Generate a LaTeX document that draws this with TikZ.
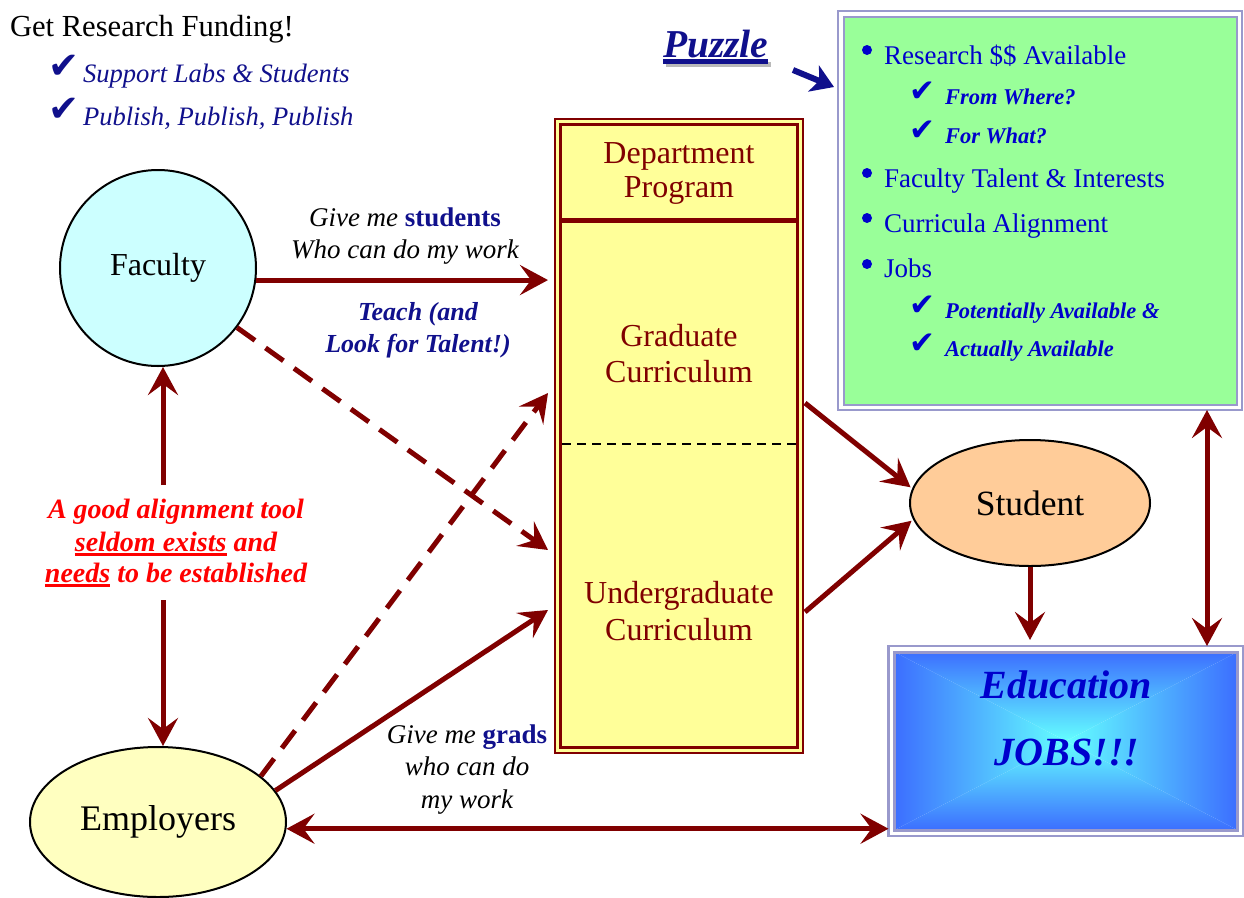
\documentclass[tikz,border=0pt]{standalone}
\usepackage{fontspec}
\setmainfont{Liberation Serif}
\newfontfamily\dejavu{DejaVu Sans}
\usetikzlibrary{arrows.meta,shapes.geometric}
\definecolor{dred}{RGB}{128,0,0}
\definecolor{navy}{RGB}{16,16,140}
\definecolor{gblue}{RGB}{0,0,204}
\definecolor{lav}{RGB}{153,153,204}
\definecolor{gfill}{RGB}{153,255,153}
\definecolor{yfill}{RGB}{255,255,153}
\definecolor{cfill}{RGB}{204,255,255}
\definecolor{efill}{RGB}{255,255,192}
\definecolor{sfill}{RGB}{255,204,153}
\definecolor{eblue}{RGB}{60,110,255}
\definecolor{ecyan}{RGB}{100,255,255}
\definecolor{shadowgray}{RGB}{185,185,185}
\newcommand\fs[1]{\fontsize{#1}{#1}\selectfont}
\newsavebox\ulbox
\newcommand\ulx[3]{\sbox\ulbox{#3}\rlap{\raisebox{-#1}{\rule{\wd\ulbox}{#2}}}\usebox\ulbox}
\newcommand\shadowul[1]{\sbox\ulbox{#1}\rlap{\hspace{3pt}\raisebox{-10pt}{\color{shadowgray}\rule{\wd\ulbox}{5pt}}}\ulx{7pt}{5pt}{#1}}
\tikzset{
  txt/.style={inner sep=0pt, outer sep=0pt},
  arr/.style={draw=dred, line width=5pt, -{Stealth[length=28pt,width=30pt,inset=11pt]}},
  darr/.style={draw=dred, line width=5pt, {Stealth[length=28pt,width=30pt,inset=11pt]}-{Stealth[length=28pt,width=30pt,inset=11pt]}},
  dsh/.style={dash pattern=on 22pt off 13pt},
  mid/.style={txt, anchor=base, font=\fs{27}\itshape},
  redt/.style={txt, anchor=base, font=\fs{28}\bfseries\itshape, text=red},
  teach/.style={txt, anchor=base, font=\fs{26}\bfseries\itshape, text=navy},
  gmain/.style={txt, anchor=base west, font=\fs{27}, text=gblue},
  gsub/.style={txt, anchor=base west, font=\fs{22.5}\bfseries\itshape, text=gblue},
  gchk/.style={txt, anchor=base west, font=\fs{31}\dejavu, text=gblue},
  gbul/.style={circle, fill=gblue, inner sep=0pt, minimum size=10pt},
  dtxt/.style={txt, anchor=base, font=\fs{32}, text=dred},
  etxt/.style={txt, anchor=base, font=\fs{40}\bfseries\itshape, text=gblue},
}
\begin{document}
\begin{tikzpicture}[x=1pt,y=-1pt]
\useasboundingbox (0,0) rectangle (1244,897);
\fill[white] (0,0) rectangle (1244,897);

% top-left
\node[txt, anchor=base west, font=\fs{30.6}] (grf) at (10,36) {Get Research Funding!};
\node[txt, anchor=base west, font=\fs{37}\dejavu, text=navy] (c1) at (48,78) {✔};
\node[txt, anchor=base west, font=\fs{26.6}\itshape, text=navy] (s1) at (83,82) {Support Labs \& Students};
\node[txt, anchor=base west, font=\fs{37}\dejavu, text=navy] (c2) at (48,121) {✔};
\node[txt, anchor=base west, font=\fs{26.6}\itshape, text=navy] (s2) at (83,125) {Publish, Publish, Publish};

% puzzle
\node[txt, anchor=base west, font=\fs{39.5}\bfseries\itshape, text=navy] (pz) at (663,57) {\shadowul{Puzzle}};
\coordinate (pa1) at (793,70);
\coordinate (pa2) at (834,87);
\draw[navy, line width=6pt, -{Stealth[length=22pt,width=28pt,inset=6pt]}] (pa1) -- (pa2);

% green box
\node[draw=lav, line width=2.5pt, fill=white, outer sep=0pt, inner sep=0pt, minimum width=404pt, minimum height=399pt, anchor=north west] (green) at (838,11) {};
\draw[lav, line width=2pt, fill=gfill] ([shift={(5.5,5.5)}]green.north west) rectangle ([shift={(-5.5,-5.5)}]green.south east);
\node[gbul] (b1) at (867,50) {};
\node[gmain] (g1) at (884,64) {Research \$\$ Available};
\node[gchk] (k1) at (909,101) {✔};
\node[gsub] (g1a) at (945,104) {From Where?};
\node[gchk] (k2) at (909,140) {✔};
\node[gsub] (g1b) at (945,143) {For What?};
\node[gbul] (b2) at (867,173) {};
\node[gmain] (g2) at (884,187) {Faculty Talent \& Interests};
\node[gbul] (b3) at (867,218) {};
\node[gmain] (g3) at (884,232) {Curricula Alignment};
\node[gbul] (b4) at (867,264) {};
\node[gmain] (g4) at (884,277) {Jobs};
\node[gchk] (k3) at (909,315) {✔};
\node[gsub] (g4a) at (945,318) {Potentially Available \&};
\node[gchk] (k4) at (909,353) {✔};
\node[gsub] (g4b) at (945,356) {Actually Available};

% department box
\node[draw=dred, line width=2pt, fill=yfill, outer sep=0pt, inner sep=0pt, minimum width=248pt, minimum height=634pt, anchor=north west] (dept) at (555,119) {};
\draw[dred, line width=3pt] ([shift={(5.5,5.5)}]dept.north west) rectangle ([shift={(-5.5,-5.5)}]dept.south east);
\coordinate (sepL) at (560.5,220.5);
\coordinate (sepR) at (797.5,220.5);
\draw[dred, line width=5pt] (sepL) -- (sepR);
\coordinate (dshL) at (562,444);
\coordinate (dshR) at (797,444);
\draw[black, line width=2.5pt, dash pattern=on 9pt off 6pt] (dshL) -- (dshR);
\node[dtxt] (d1) at (679,163) {Department};
\node[dtxt] (d2) at (679,197) {Program};
\node[dtxt] (gr1) at (679,346) {Graduate};
\node[dtxt] (gr2) at (679,382) {Curriculum};
\node[dtxt] (ug1) at (679,603) {Undergraduate};
\node[dtxt] (ug2) at (679,640) {Curriculum};

% education box
\node[draw=lav, line width=2.5pt, fill=white, outer sep=0pt, inner sep=0pt, minimum width=355pt, minimum height=190pt, anchor=north west] (edu) at (888.5,646) {};
\coordinate (eNW) at ([shift={(6,6)}]edu.north west);
\coordinate (eNE) at ([shift={(-6,6)}]edu.north east);
\coordinate (eSW) at ([shift={(6,-6)}]edu.south west);
\coordinate (eSE) at ([shift={(-6,-6)}]edu.south east);
\coordinate (eC) at (edu.center);
\shade[top color=eblue, bottom color=ecyan] (eNW) -- (eNE) -- (eC) -- cycle;
\shade[top color=ecyan, bottom color=eblue] (eSW) -- (eSE) -- (eC) -- cycle;
\shade[left color=eblue, right color=ecyan] (eNW) -- (eSW) -- (eC) -- cycle;
\shade[left color=ecyan, right color=eblue] (eNE) -- (eSE) -- (eC) -- cycle;
\draw[lav, line width=3pt] (eNW) rectangle (eSE);
\node[etxt] (e1) at (1066,698) {Education};
\node[etxt] (e2) at (1067,765) {JOBS!!!};

% ellipses
\node[circle, draw=black, line width=2pt, fill=cfill, minimum size=196pt, inner sep=0pt, font=\fs{32}] (faculty) at (158,268) {Faculty};
\node[ellipse, draw=black, line width=2pt, fill=sfill, minimum width=240pt, minimum height=126pt, inner sep=0pt, font=\fs{35.5}] (student) at (1030,503) {Student};
\node[ellipse, draw=black, line width=2pt, fill=efill, minimum width=256pt, minimum height=150pt, inner sep=0pt, font=\fs{36}] (employers) at (158,822) {Employers};

% target coordinates
\coordinate (tG) at (548,393);
\coordinate (tU1) at (548,550);
\coordinate (tU2) at (548,610);
\coordinate (gO) at (805,403);
\coordinate (uO) at (805,612);
\coordinate (vt) at (163,485);
\coordinate (vb) at (163,600);
\coordinate (ge) at (1207,0);

% arrows
\draw[arr, shorten >=7pt] (faculty.-7) -- (dept.west |- faculty.-7);
\draw[arr, dsh] (faculty.-37) -- (tU1);
\draw[arr, dsh] (employers.24) -- (tG);
\draw[arr] (employers.15) -- (tU2);
\draw[darr] (employers.-3) -- (edu.west |- employers.-3);
\draw[arr] (vt) -- (vt |- faculty.south);
\draw[arr] (vb) -- (vb |- employers.north);
\draw[arr, shorten >=2pt] (gO) -- (student.173);
\draw[arr, shorten >=2pt] (uO) -- (student.188);
\draw[arr, shorten >=6pt] (student.south) -- (student.south |- edu.north);
\draw[darr] (ge |- green.south) -- (ge |- edu.north);

% labels
\node[mid] (l1) at (405,226) {Give me {\upshape\bfseries\color{navy}students}};
\node[mid] (l2) at (405,258) {Who can do my work};
\node[teach] (t1) at (418,320) {Teach (and};
\node[teach] (t2) at (418,352) {Look for Talent!)};
\node[redt] (r1) at (176,518) {A good alignment tool};
\node[redt] (r2) at (176,551) {\ulx{5pt}{3pt}{seldom exists} and};
\node[redt] (r3) at (176,582) {\ulx{5pt}{3pt}{needs} to be established};
\node[mid] (m1) at (467,743) {Give me {\upshape\bfseries\color{navy}grads}};
\node[mid] (m2) at (467,775) {who can do};
\node[mid] (m3) at (467,808) {my work};
\end{tikzpicture}
\end{document}
